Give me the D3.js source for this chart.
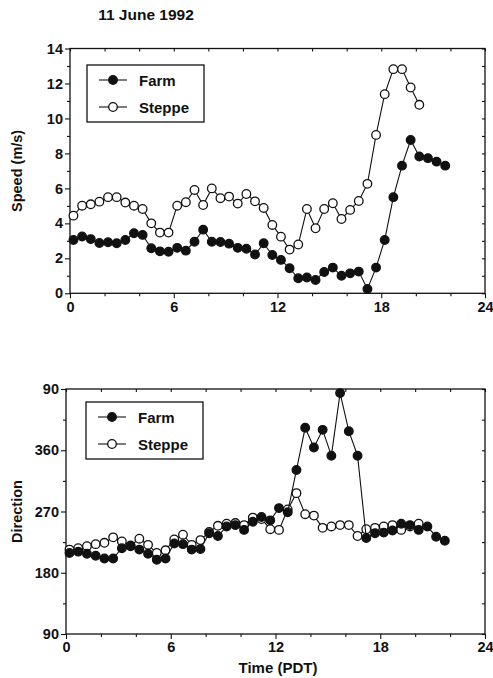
<!DOCTYPE html>
<html>
<head>
<meta charset="utf-8">
<script src="https://cdn.jsdelivr.net/npm/d3@7/dist/d3.min.js"></script>
<style>
body { margin: 0; background: #fff; }
text { font-family: "Liberation Sans", Arial, sans-serif; font-weight: bold; fill: #111; }
</style>
</head>
<body>
<svg id="svg0"></svg>
<script>
// half-hourly observation times (PDT)
let hours = [0.2, 0.7, 1.2, 1.7, 2.2, 2.7, 3.2, 3.7, 4.2, 4.7, 5.2, 5.7, 6.2, 6.7, 7.2, 7.7,
    8.2, 8.7, 9.2, 9.7, 10.2, 10.7, 11.2, 11.7, 12.2, 12.7, 13.2, 13.7, 14.2, 14.7, 15.2, 15.7,
    16.2, 16.7, 17.2, 17.7, 18.2, 18.7, 19.2, 19.7, 20.2, 20.7, 21.2, 21.7];

// wind speed (m/s)
let farmSpeed = [3.05, 3.25, 3.1, 2.88, 2.92, 2.86, 3.05, 3.43, 3.34, 2.58, 2.4, 2.38, 2.6, 2.44, 2.95, 3.64,
    2.95, 2.93, 2.84, 2.6, 2.55, 2.22, 2.86, 2.19, 1.91, 1.43, 0.86, 0.9, 0.76, 1.22, 1.47, 1.0,
    1.14, 1.24, 0.25, 1.47, 3.05, 5.5, 7.3, 8.77, 7.82, 7.73, 7.53, 7.3];
let steppeSpeed = [4.44, 5.01, 5.09, 5.24, 5.5, 5.5, 5.19, 5.01, 4.82, 4.0, 3.47, 3.47, 5.01, 5.21, 5.91, 5.05,
    6.0, 5.44, 5.53, 5.13, 5.68, 5.26, 4.88, 3.91, 3.24, 2.5, 2.79, 4.82, 3.72, 4.82, 5.15, 4.25,
    4.77, 5.28, 6.26, 9.06, 11.39, 12.82, 12.82, 11.77, 10.78];

// wind direction (degrees, values past 360 wrap round to the top)
let farmDir = [209, 211, 208, 205, 201, 201, 216, 219, 214, 208, 199, 201, 223, 222, 214, 215,
    238, 234, 248, 250, 243, 255, 262, 257, 275, 269, 331, 393, 364, 390, 352, 444,
    388, 352, 231, 238, 239, 242, 252, 250, 243, 248, 233, 227];
let steppeDir = [214, 216, 219, 222, 224, 232, 226, 220, 230, 221, 209, 213, 229, 236, 221, 228,
    240, 249, 252, 253, 250, 261, 259, 244, 243, 273, 297, 266, 264, 246, 248, 250,
    250, 234, 244, 246, 248, 250, 243, 248, 252];

let seriesNames = ['Farm', 'Steppe'];
let timeTicks = [0, 6, 12, 18, 24];
let timeMinor = [2, 4, 8, 10, 14, 16, 20, 22];
let speedTicks = [0, 2, 4, 6, 8, 10, 12, 14];
let speedMinor = [1, 3, 5, 7, 9, 11, 13];
let dirTicks = [90, 180, 270, 360, 450];
let dirLabels = ['90', '180', '270', '360', '90'];
let dirMinor = [135, 225, 315, 405];

let width = 493;
let height = 678;

let svg = d3.select('#svg0').attr('width', width).attr('height', height);

// title
svg.append('text')
    .attr('x', 146).attr('y', 20)
    .text('11 June 1992')
    .style('font-size', '15.5px').style('text-anchor', 'middle');

function drawPanel(p){
    let xScale = d3.scaleLinear().domain([0, 24]).range([p.left, p.right]);
    let yScale = d3.scaleLinear().domain(p.yDomain).range([p.bottom, p.top]);
    let g = svg.append('g');

    // axes (major + minor ticks)
    let xAxis = g.append('g').attr('transform', 'translate(0, ' + p.bottom + ')')
        .call(d3.axisBottom(xScale).tickValues(timeTicks).tickSize(5).tickPadding(3).tickFormat(d=>{return p.xLabels ? d : d;}));
    g.append('g').attr('transform', 'translate(0, ' + p.bottom + ')')
        .call(d3.axisBottom(xScale).tickValues(timeMinor).tickSize(3).tickFormat(''));
    let yAxis = g.append('g').attr('transform', 'translate(' + p.left + ', 0)')
        .call(d3.axisLeft(yScale).tickValues(p.yTicks).tickSize(5).tickPadding(2)
            .tickFormat((d, i)=>{return p.yLabels[i];}));
    g.append('g').attr('transform', 'translate(' + p.left + ', 0)')
        .call(d3.axisLeft(yScale).tickValues(p.yMinor).tickSize(3).tickFormat(''));

    // inner ticks on top and right
    g.append('g').attr('transform', 'translate(0, ' + p.top + ')')
        .call(d3.axisBottom(xScale).tickValues(timeTicks.concat(timeMinor)).tickSize(3).tickFormat(''));
    g.append('g').attr('transform', 'translate(' + p.right + ', 0)')
        .call(d3.axisLeft(yScale).tickValues(p.yTicks.concat(p.yMinor)).tickSize(3).tickFormat(''));

    g.selectAll('.domain').remove();
    g.selectAll('.tick line').style('stroke', '#111').style('stroke-width', 1.1);
    g.selectAll('.tick text').style('font-size', '14.5px').attr('fill', '#111');
    g.selectAll('g').attr('font-family', null).attr('font-size', null);

    // frame
    g.append('rect')
        .attr('x', p.left).attr('y', p.top)
        .attr('width', p.right - p.left).attr('height', p.bottom - p.top)
        .style('fill', 'none').style('stroke', '#111').style('stroke-width', 1.3);

    // y title
    g.append('text')
        .attr('transform', 'translate(' + p.yTitleX + ', ' + (p.top + p.bottom)/2 + ') rotate(-90)')
        .text(p.yTitle)
        .style('font-size', '14.5px').style('text-anchor', 'middle');

    let series = [
        {name: seriesNames[1], values: p.steppe, fill: '#fff'},
        {name: seriesNames[0], values: p.farm, fill: '#111'}
    ];

    let line = d3.line().x((d, i)=>{return xScale(hours[i]);}).y(d=>{return yScale(d);});

    series.forEach(s=>{
        g.append('path').datum(s.values)
            .attr('fill', 'none')
            .style('stroke', '#111').style('stroke-width', 1.1)
            .attr('d', line);
        g.selectAll('.pt' + s.name).data(s.values).enter().append('circle')
            .attr('class', 'pt' + s.name)
            .attr('cx', (d, i)=>{return xScale(hours[i]);})
            .attr('cy', d=>{return yScale(d);})
            .attr('r', 4.3)
            .style('fill', s.fill)
            .style('stroke', '#111').style('stroke-width', 1.3);
    });

    // legend
    let lg = g.append('g').attr('transform', 'translate(' + p.legendX + ', ' + p.legendY + ')');
    lg.append('rect').attr('width', 117).attr('height', 57)
        .style('fill', '#fff').style('stroke', '#111').style('stroke-width', 1.3);
    let legendItems = [
        {name: seriesNames[0], fill: '#111', y: 15},
        {name: seriesNames[1], fill: '#fff', y: 42}
    ];
    legendItems.forEach(item=>{
        lg.append('line').attr('x1', 12).attr('x2', 40).attr('y1', item.y).attr('y2', item.y)
            .style('stroke', '#111').style('stroke-width', 1.1);
        lg.append('circle').attr('cx', 26).attr('cy', item.y).attr('r', 4.3)
            .style('fill', item.fill).style('stroke', '#111').style('stroke-width', 1.3);
        lg.append('text').attr('x', 52).attr('y', item.y + 5.5)
            .text(item.name)
            .style('font-size', '15px');
    });
}

// speed panel
drawPanel({
    left: 70, right: 485, top: 48.5, bottom: 293.3,
    yDomain: [0, 14], yTicks: speedTicks, yLabels: speedTicks, yMinor: speedMinor,
    farm: farmSpeed, steppe: steppeSpeed,
    yTitle: 'Speed (m/s)', yTitleX: 22,
    legendX: 87, legendY: 65
});

// direction panel
drawPanel({
    left: 66, right: 485, top: 389, bottom: 634,
    yDomain: [90, 450], yTicks: dirTicks, yLabels: dirLabels, yMinor: dirMinor,
    farm: farmDir, steppe: steppeDir,
    yTitle: 'Direction', yTitleX: 22,
    legendX: 86, legendY: 402
});

// x title
svg.append('text')
    .attr('x', 278).attr('y', 673)
    .text('Time (PDT)')
    .style('font-size', '15px').style('text-anchor', 'middle');
</script>
</body>
</html>
